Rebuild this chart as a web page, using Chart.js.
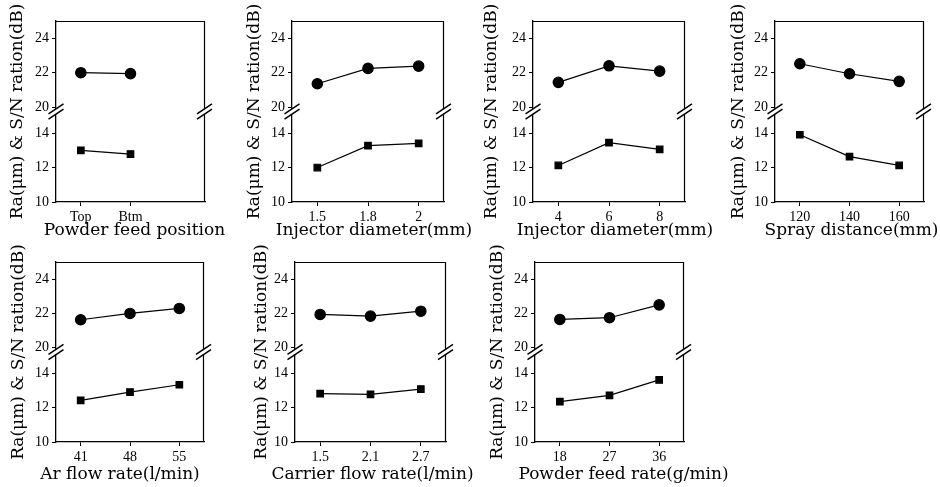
<!DOCTYPE html>
<html><head><meta charset="utf-8">
<script src="https://cdn.jsdelivr.net/npm/chart.js@4.4.0/dist/chart.umd.min.js"></script>
<style>
html,body{margin:0;padding:0;background:#fff;width:940px;height:487px;overflow:hidden;position:relative}
canvas{position:absolute}
</style></head><body>
<script>
// ---------- data ----------
const yAxisTitle = 'Ra(\u03bcm) & S/N ration(dB)';
const raTickRange = [10, 15.25];     // lower (Ra) axis segment
const snTickRange = [19.75, 25];     // upper (S/N) axis segment

const posCats = ['Top', 'Btm', ''];
const posSN = [22.0, 21.95];
const posRa = [13.0, 12.78];

const injCats = ['1.5', '1.8', '2'];
const injSN = [21.36, 22.25, 22.38];
const injRa = [12.0, 13.27, 13.4];

const inj2Cats = ['4', '6', '8'];
const inj2SN = [21.44, 22.4, 22.09];
const inj2Ra = [12.12, 13.44, 13.05];

const sprayCats = ['120', '140', '160'];
const spraySN = [22.52, 21.94, 21.5];
const sprayRa = [13.9, 12.63, 12.12];

const arCats = ['41', '48', '55'];
const arSN = [21.63, 22.0, 22.29];
const arRa = [12.43, 12.91, 13.34];

const carCats = ['1.5', '2.1', '2.7'];
const carSN = [21.94, 21.84, 22.13];
const carRa = [12.82, 12.78, 13.09];

const feedCats = ['18', '27', '36'];
const feedSN = [21.65, 21.75, 22.5];
const feedRa = [12.35, 12.72, 13.62];

// ---------- layout ----------
const panels = [
  {cats: posCats,   sn: posSN,   ra: posRa,   xTitle: 'Powder feed position',      frame: [56, 21, 205, 202],  yOff: 38, xtOff: 29, xShift: 4},
  {cats: injCats,   sn: injSN,   ra: injRa,   xTitle: 'Injector diameter(mm)',     frame: [292, 21, 444, 202], yOff: 37, xtOff: 29, xShift: 6},
  {cats: inj2Cats,  sn: inj2SN,  ra: inj2Ra,  xTitle: 'Injector diameter(mm)',     frame: [533, 21, 685, 202], yOff: 41, xtOff: 29, xShift: 6},
  {cats: sprayCats, sn: spraySN, ra: sprayRa, xTitle: 'Spray distance(mm)',        frame: [775, 21, 924, 202], yOff: 36, xtOff: 29, xShift: 2},
  {cats: arCats,    sn: arSN,    ra: arRa,    xTitle: 'Ar flow rate(l/min)',       frame: [56, 262, 204, 442], yOff: 37, xtOff: 33, xShift: -10},
  {cats: carCats,   sn: carSN,   ra: carRa,   xTitle: 'Carrier flow rate(l/min)',  frame: [295, 262, 446, 442], yOff: 33, xtOff: 33, xShift: 2},
  {cats: feedCats,  sn: feedSN,  ra: feedRa,  xTitle: 'Powder feed rate(g/min)',   frame: [535, 262, 684, 442], yOff: 37, xtOff: 33, xShift: 14}
];

const tickFont = {family: "'Liberation Serif', 'Times New Roman', serif", size: 14};
const titleFont = {family: "'DejaVu Serif', serif", size: 17};
const RIGHT_PAD = 44;

const framePlugin = {
  id: 'frameBreak',
  afterDraw(chart, args, opts) {
    const {ctx, chartArea: a} = chart;
    const yb = chart.scales.yLow.top;
    ctx.save();
    ctx.strokeStyle = '#000';
    ctx.lineWidth = 1.2;
    ctx.beginPath();
    ctx.moveTo(a.left, a.top + 0.5); ctx.lineTo(a.right, a.top + 0.5);
    ctx.moveTo(a.right - 0.5, a.top); ctx.lineTo(a.right - 0.5, a.bottom);
    ctx.stroke();
    for (const x of [a.left, a.right - 0.5]) {
      ctx.fillStyle = '#fff';
      ctx.fillRect(x - 2.5, yb - 2.5, 5, 5);
      ctx.lineWidth = 1.5;
      ctx.beginPath();
      for (const d of [-2.6, 2.6]) {
        ctx.moveTo(x - 7.5, yb + d + 5);
        ctx.lineTo(x + 7.5, yb + d - 5);
      }
      ctx.stroke();
    }
    // x-axis title (drawn without width compression)
    ctx.fillStyle = '#000';
    ctx.font = `${titleFont.size}px ${titleFont.family}`;
    ctx.textAlign = 'center';
    ctx.textBaseline = 'middle';
    ctx.fillText(opts.text, (a.left + a.right) / 2 + opts.shift, a.bottom + opts.offset);
    ctx.restore();
  }
};

function yStackAxis(range) {
  return {
    type: 'linear', position: 'left', stack: 'v', stackWeight: 1,
    min: range[0], max: range[1],
    grid: {display: true, drawOnChartArea: false, tickLength: 4, color: '#000'},
    border: {display: true, color: '#000', width: 1.3},
    ticks: {stepSize: 2, includeBounds: false, color: '#000', font: tickFont, padding: 3},
    afterFit(s) { s.width = 24; }
  };
}

panels.forEach(p => {
  const [L, T, R, B] = p.frame;
  const cl = L - 60, ct = T - 21, cw = R - L + 60 + RIGHT_PAD, ch = B - T + 66;
  const cv = document.createElement('canvas');
  cv.width = cw; cv.height = ch;
  cv.style.left = cl + 'px'; cv.style.top = ct + 'px';
  cv.style.width = cw + 'px'; cv.style.height = ch + 'px';
  document.body.appendChild(cv);
  new Chart(cv, {
    type: 'line',
    data: {
      labels: p.cats,
      datasets: [
        {data: p.sn, yAxisID: 'yHigh', pointStyle: 'circle', pointRadius: 5.2,
         pointBackgroundColor: '#000', pointBorderColor: '#000', borderColor: '#000', borderWidth: 1.2, fill: false, tension: 0},
        {data: p.ra, yAxisID: 'yLow', pointStyle: 'rect', pointRadius: 4.6,
         pointBackgroundColor: '#000', pointBorderColor: '#000', borderColor: '#000', borderWidth: 1.2, fill: false, tension: 0}
      ]
    },
    options: {
      responsive: false, animation: false, devicePixelRatio: 1,
      layout: {padding: {top: 21, right: RIGHT_PAD, left: 0, bottom: 0}},
      plugins: {
        legend: {display: false}, tooltip: {enabled: false},
        frameBreak: {text: p.xTitle, shift: p.xShift, offset: p.xtOff}
      },
      scales: {
        x: {
          type: 'category', offset: true,
          grid: {display: true, drawOnChartArea: false, tickLength: 4,
                 tickColor: c => (c.tick && c.tick.label === '' ? 'rgba(0,0,0,0)' : '#000'), color: '#000'},
          border: {display: true, color: '#000', width: 1.3},
          ticks: {color: '#000', font: tickFont, padding: 3, maxRotation: 0, autoSkip: false},
          title: {display: false},
          afterFit(s) { s.height = 45; }
        },
        yT: {
          type: 'linear', position: 'left', weight: 10, display: true,
          grid: {display: false}, border: {display: false}, ticks: {display: false},
          title: {display: true, text: yAxisTitle, color: '#000', font: titleFont,
                  padding: {top: 60 - p.yOff - 10.2, bottom: 0}},
          afterFit(s) { s.width = 36; }
        },
        yLow: yStackAxis(raTickRange),
        yHigh: yStackAxis(snTickRange)
      }
    },
    plugins: [framePlugin]
  });
});
</script>
</body></html>
